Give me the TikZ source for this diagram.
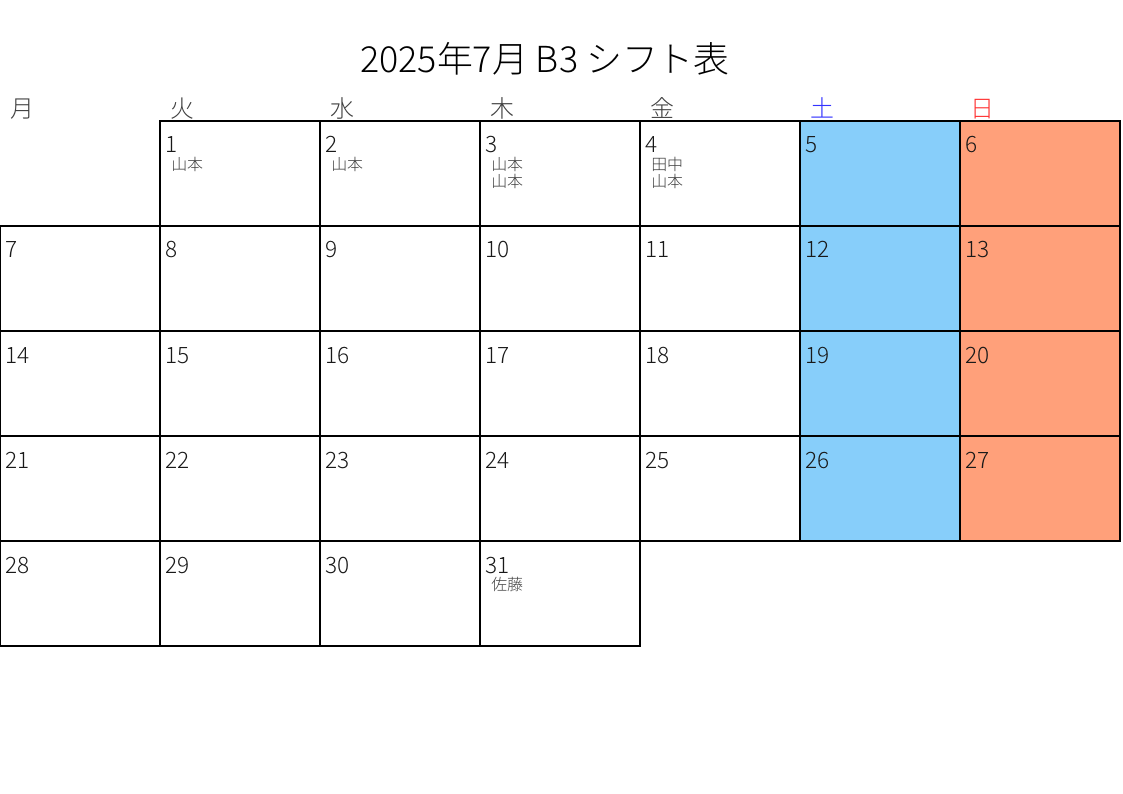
\documentclass[tikz,border=0pt]{standalone}
\usepackage{fontspec}
\setmainfont{Noto Sans CJK JP}[UprightFont=* Light]
\definecolor{satblue}{HTML}{87CEFA}
\definecolor{sunred}{HTML}{FFA07A}
\begin{document}
\begin{tikzpicture}[x=0.2645mm, y=-0.2645mm,
    cell/.style={draw, line width=2.2pt, anchor=north west, inner sep=0pt,
      outer sep=0pt, minimum width=42.32mm, minimum height=27.77mm},
    col0/.style={}, col1/.style={}, col2/.style={}, col3/.style={},
    col4/.style={}, col5/.style={fill=satblue}, col6/.style={fill=sunred},
    daynum/.style={anchor=base west, inner sep=0pt,
      font=\fontsize{17}{20}\selectfont, text=black!90},
    names/.style={anchor=north west, inner sep=0pt, align=left,
      font=\fontsize{12}{12.5}\selectfont, text=black!75},
    wday/.style={anchor=base west, inner sep=0pt,
      font=\fontsize{18}{20}\selectfont}]
    % Размер страницы
    \useasboundingbox (0,0) rectangle (1123,794);
    % Заголовок
    \node[anchor=base, inner sep=0pt, font=\fontsize{27}{30}\selectfont]
    (title) at (545,73) {2025年7月 B3 シフト表};
    % Дни недели
    \foreach \w/\wc [count=\i from 0] in {月/black!75, 火/black!75,
      水/black!75, 木/black!75, 金/black!75, 土/blue!80, 日/red!80}
    \node[wday, text=\wc] (w\i) at (160*\i+10, 118) {\w};
    % Клетки
    \foreach \d in {1,...,31} {
      \pgfmathtruncatemacro{\c}{mod(\d,7)}
      \pgfmathtruncatemacro{\r}{\d/7}
      \node[cell, col\c] (d\d) at (160*\c, 121+105*\r) {};
      \node[daynum] (n\d) at ([shift={(5,32)}]d\d.north west) {\d};
    }
    % Смены
    \foreach \d/\who in {1/山本, 2/山本, 3/{山本\\山本}, 4/{田中\\山本}, 31/佐藤}
    \node[names] (s\d) at ([shift={(11,36)}]d\d.north west) {\who};
\end{tikzpicture}
\end{document}
